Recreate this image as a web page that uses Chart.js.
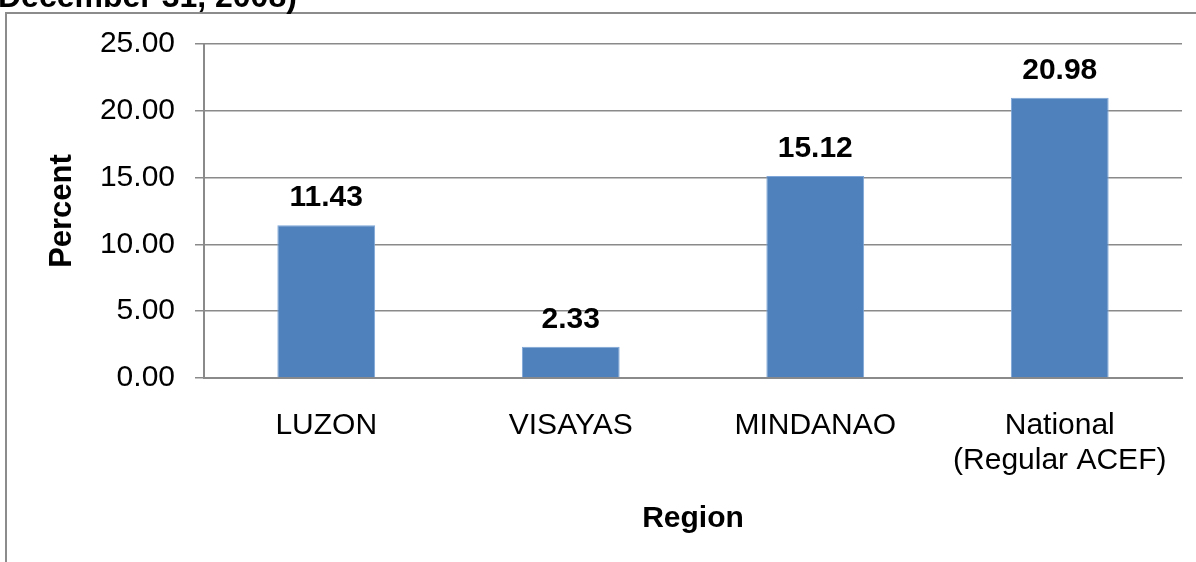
<!DOCTYPE html>
<html>
<head>
<meta charset="utf-8">
<title>Percent by Region</title>
<script src="https://cdn.jsdelivr.net/npm/chart.js@4.4.1/dist/chart.umd.min.js"></script>
<style>
    html, body { margin: 0; padding: 0; background: #fff; overflow: hidden; }
    #wrap { position: relative; width: 1196px; height: 562px; }
</style>
</head>
<body>
<div id="wrap"><canvas id="chart" width="1196" height="562"></canvas></div>
<script>
    // values
    var regions = ['LUZON', 'VISAYAS', 'MINDANAO', ['National', '(Regular ACEF)']];
    var percentValues = [11.43, 2.33, 15.12, 20.98];
    var yMin = 0, yMax = 25, yStep = 5;
    var titleTail = 'December 31, 2008)';

    var FONT = '"Liberation Sans", Arial, sans-serif';
    var gridGray = '#8a8a8a';
    var barBlue = '#4f81bd';

    // outer frame + the tail of the title that is cut off at the top
    var framePlugin = {
        id: 'frame',
        beforeDraw: function (chart) {
            var ctx = chart.ctx;
            ctx.save();
            ctx.strokeStyle = '#8c8c8c';
            ctx.lineWidth = 2;
            ctx.beginPath();
            ctx.moveTo(6, chart.height);
            ctx.lineTo(6, 13);
            ctx.lineTo(chart.width, 13);
            ctx.stroke();
            ctx.fillStyle = '#000';
            ctx.font = 'bold 32px ' + FONT;
            ctx.textBaseline = 'alphabetic';
            ctx.textAlign = 'left';
            ctx.fillText(titleTail, -2, 7);
            ctx.restore();
        }
    };

    // value labels above each bar
    var valueLabels = {
        id: 'valueLabels',
        afterDatasetsDraw: function (chart) {
            var ctx = chart.ctx;
            var meta = chart.getDatasetMeta(0);
            ctx.save();
            ctx.fillStyle = '#000';
            ctx.font = 'bold 30px ' + FONT;
            ctx.textAlign = 'center';
            ctx.textBaseline = 'alphabetic';
            meta.data.forEach(function (bar, i) {
                ctx.fillText(percentValues[i].toFixed(2), bar.x, bar.y - 19);
            });
            ctx.restore();
        }
    };

    new Chart(document.getElementById('chart'), {
        type: 'bar',
        data: {
            labels: regions,
            datasets: [{
                data: percentValues,
                backgroundColor: barBlue,
                borderColor: '#7ea6d8',
                borderWidth: 1,
                categoryPercentage: 1,
                barPercentage: 0.4,
            }],
        },
        options: {
            responsive: false,
            animation: false,
            events: [],
            layout: { padding: { left: 0, top: 44, right: 14, bottom: 0 } },
            plugins: {
                legend: { display: false },
                tooltip: { enabled: false },
            },
            scales: {
                x: {
                    afterFit: function (scale) {
                        scale.height = 184;
                        scale.paddingLeft = 0;
                        scale.paddingRight = 0;
                    },
                    grid: { display: true, drawOnChartArea: false, drawTicks: false },
                    border: { display: true, color: gridGray, width: 2 },
                    ticks: {
                        color: '#000',
                        padding: 30,
                        maxRotation: 0,
                        autoSkip: false,
                        font: { family: FONT, size: 30, lineHeight: 1.17 },
                    },
                    title: {
                        display: true,
                        text: 'Region',
                        color: '#000',
                        font: { family: FONT, size: 30, weight: 'bold', lineHeight: 1.2 },
                        padding: { top: 0, bottom: 25 },
                    },
                },
                y: {
                    min: yMin,
                    max: yMax,
                    afterFit: function (scale) { scale.width = 204; },
                    grid: { color: gridGray, lineWidth: 1.5, tickLength: 9 },
                    border: { display: true, color: gridGray, width: 2 },
                    ticks: {
                        stepSize: yStep,
                        color: '#000',
                        padding: 20,
                        font: { family: FONT, size: 30 },
                        callback: function (v) { return v.toFixed(2); },
                    },
                    title: {
                        display: true,
                        text: 'Percent',
                        color: '#000',
                        font: { family: FONT, size: 31, weight: 'bold', lineHeight: 1.2 },
                        padding: { top: 44, bottom: 0 },
                    },
                },
            },
        },
        plugins: [framePlugin, valueLabels],
    });
</script>
</body>
</html>
